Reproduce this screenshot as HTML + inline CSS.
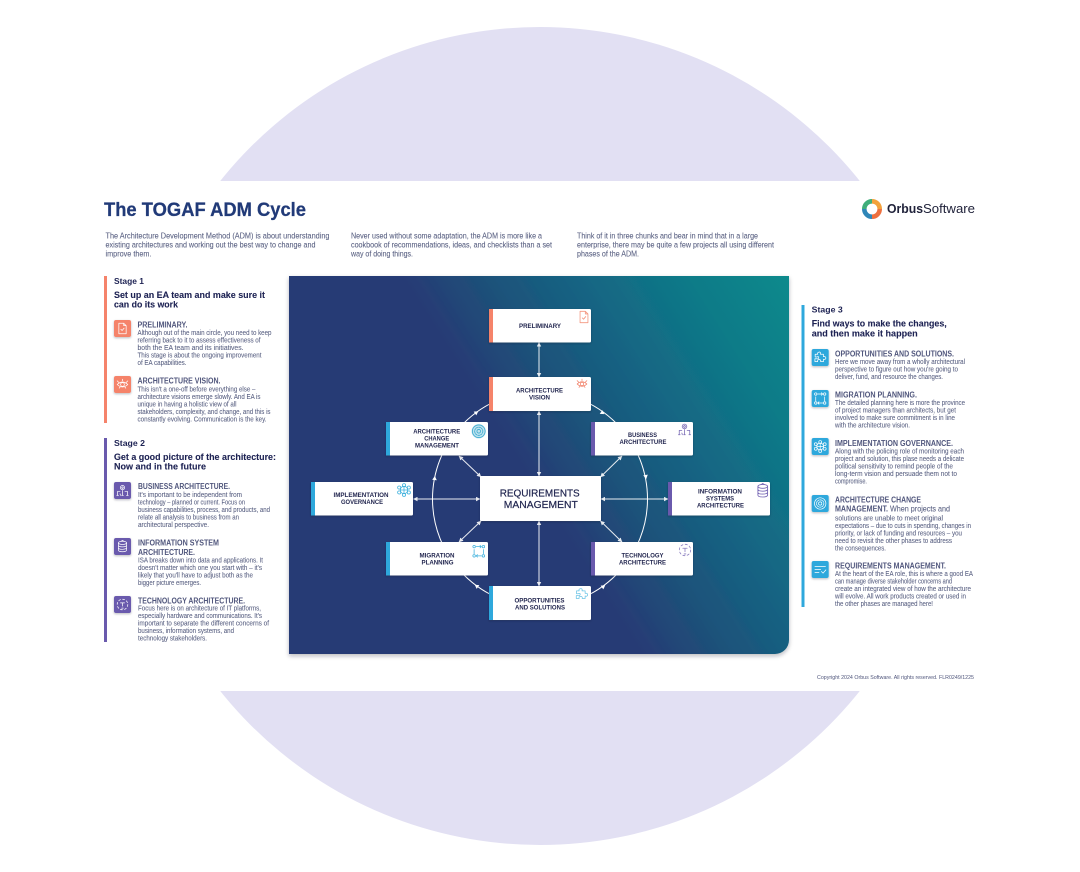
<!DOCTYPE html>
<html lang="en"><head><meta charset="utf-8"><title>The TOGAF ADM Cycle</title>
<style>
html,body{margin:0;padding:0;background:#fff;width:1080px;height:872px;overflow:hidden}
svg{display:block;filter:blur(.3px)}
text{font-family:"Liberation Sans",sans-serif}
.i{font-size:7.8px;fill:#5c6384;stroke:#5c6384;stroke-width:.08}
.b{font-size:7px;fill:#5c6384;stroke:#5c6384;stroke-width:.08}
.h{font-size:8px;font-weight:700;fill:#50567c}
.s{font-size:8.6px;font-weight:700;fill:#1d2253}
.g{font-size:9.2px;font-weight:700;fill:#1d2253;stroke:#1d2253;stroke-width:.1}
.n{font-size:6.2px;font-weight:700;fill:#22264f;text-anchor:middle}
.w{stroke:#fff;fill:none;stroke-width:1}
.ic{fill:none;stroke-width:.9;stroke-linecap:round;stroke-linejoin:round}
</style></head><body>
<svg width="1080" height="872" viewBox="0 0 1080 872" xmlns="http://www.w3.org/2000/svg">
<defs>
<linearGradient id="pg" gradientUnits="userSpaceOnUse" x1="512" y1="452" x2="789" y2="276">
<stop offset="0" stop-color="#273a75"/><stop offset=".2" stop-color="#1e5079"/><stop offset=".45" stop-color="#146483"/><stop offset=".73" stop-color="#0f7a88"/><stop offset="1" stop-color="#0e8a8c"/>
</linearGradient>
<filter id="sh" x="-20%" y="-20%" width="140%" height="150%"><feDropShadow dx="0" dy="1" stdDeviation="1" flood-color="#223" flood-opacity=".3"/></filter>
<filter id="ps" x="-5%" y="-5%" width="110%" height="110%"><feDropShadow dx="0" dy="2" stdDeviation="2" flood-color="#223" flood-opacity=".3"/></filter>
<marker id="a" viewBox="0 0 6 6" refX="5.5" refY="3" markerWidth="4.5" markerHeight="4.5" markerUnits="userSpaceOnUse" orient="auto-start-reverse"><path d="M0 0L6 3L0 6Z" fill="#fff"/></marker>
<symbol id="doc" viewBox="0 0 16 16"><path d="M3.5 1.5h6l3 3v10h-9z M9.5 1.5v3h3 M6 9l1.5 1.5L10 7.5"/></symbol>
<symbol id="eye" viewBox="0 0 16 16"><path d="M1.5 8q6.500-6 13 0q-6.500 6-13 0z"/><circle cx="8" cy="8" r="2.300"/><path d="M1.500 3.500l2 2M14.500 3.500l-2 2M8 1.500v2M4 12.500l1-1.300M12 12.500l-1-1.300"/></symbol>
<symbol id="bus" viewBox="0 0 16 16"><circle cx="8" cy="4.500" r="2.600"/><circle cx="8" cy="4.500" r="1"/><path d="M2 14V9h3M14 14V9h-3M8 8v6M5.500 14l-.5-2M1 14h2M13 14h2M7 14h2"/></symbol>
<symbol id="db" viewBox="0 0 16 16"><ellipse cx="8" cy="3.500" rx="5" ry="2"/><path d="M3 3.500v9c0 2.600 10 2.600 10 0v-9M3 6.500c0 2.600 10 2.600 10 0M3 9.500c0 2.600 10 2.600 10 0"/><path d="M6.500 1.500l1.500-1 1.500 1"/></symbol>
<symbol id="tech" viewBox="0 0 16 16"><circle cx="8" cy="8" r="6.500" stroke-dasharray="2.500 2.600"/><path d="M5.500 6h5M8 6v4M7 12.500h2"/></symbol>
<symbol id="puz" viewBox="0 0 16 16"><path d="M6 1.500c2-.8 3 .8 2.300 2.500H12v3c1.800-.6 3 .3 3 1.600s-1.200 2.200-3 1.500v3H8.500c.6-1.600-.4-2.600-1.800-2.600s-2.400 1-1.800 2.600H1.500v-3.500h2.200c1.600.5 2.500-.5 2.500-1.700S5.300 6.800 3.800 7.400H1.800V4H5C4.300 3 4.600 2 6 1.500z"/></symbol>
<symbol id="mig" viewBox="0 0 16 16"><circle cx="2.500" cy="2.500" r="1.500"/><circle cx="13.500" cy="2.500" r="1.500"/><circle cx="2.500" cy="13.500" r="1.500"/><circle cx="13.500" cy="13.500" r="1.500"/><path d="M5 2.500h6M9.500 1l1.500 1.500L9.500 4M11 13.500H5M6.500 12L5 13.500 6.500 15M2.500 6v5M13.500 6v5"/></symbol>
<symbol id="gov" viewBox="0 0 16 16"><circle cx="8" cy="8" r="4.200"/><path d="M8 3.800v8.400M3.800 8h8.400"/><circle cx="8" cy="2.500" r="1.800"/><circle cx="8" cy="13.500" r="1.800"/><circle cx="2.500" cy="5.200" r="1.800"/><circle cx="13.500" cy="5.200" r="1.800"/><circle cx="2.500" cy="10.800" r="1.800"/><circle cx="13.500" cy="10.800" r="1.800"/></symbol>
<symbol id="chg" viewBox="0 0 16 16"><circle cx="8" cy="8" r="7"/><circle cx="8" cy="8" r="4.500" stroke-dasharray="2 1"/><circle cx="8" cy="8" r="2"/></symbol>
<symbol id="req" viewBox="0 0 16 16"><path d="M1.500 4.500h13M1.500 8h7M1.500 11.500h5M9.500 10.500l2 2 3.500-4"/></symbol>
</defs>

<circle cx="540" cy="436" r="409" fill="#e2e0f3"/>
<rect x="0" y="181" width="1080" height="510" fill="#fff"/>

<text x="104" y="216" font-size="19" font-weight="700" fill="#213a78" stroke="#213a78" stroke-width=".25" textLength="202" lengthAdjust="spacingAndGlyphs">The TOGAF ADM Cycle</text>

<g fill="none" stroke-width="4.600">
<path d="M864.300 209a7.700 7.700 0 0 1 7.700-7.700" stroke="#3fae7a"/>
<path d="M872 201.300a7.700 7.700 0 0 1 7.700 7.700" stroke="#f2a23c"/>
<path d="M879.700 209a7.700 7.700 0 0 1-7.700 7.700" stroke="#ee7040"/>
<path d="M872 216.700a7.700 7.700 0 0 1-7.700-7.700" stroke="#2f86b8"/>
</g>
<text x="887" y="213" font-size="13" font-weight="700" fill="#20223a" textLength="36" lengthAdjust="spacingAndGlyphs">Orbus</text>
<text x="923" y="213" font-size="13" fill="#20223a" textLength="52" lengthAdjust="spacingAndGlyphs">Software</text>

<text class="i" x="105.500" y="238.700" textLength="224" lengthAdjust="spacingAndGlyphs">The Architecture Development Method (ADM) is about understanding</text>
<text class="i" x="105.500" y="247.700" textLength="210" lengthAdjust="spacingAndGlyphs">existing architectures and working out the best way to change and</text>
<text class="i" x="105.500" y="256.700" textLength="46" lengthAdjust="spacingAndGlyphs">improve them.</text>
<text class="i" x="351" y="238.700" textLength="191" lengthAdjust="spacingAndGlyphs">Never used without some adaptation, the ADM is more like a</text>
<text class="i" x="351" y="247.700" textLength="201" lengthAdjust="spacingAndGlyphs">cookbook of recommendations, ideas, and checklists than a set</text>
<text class="i" x="351" y="256.700" textLength="62" lengthAdjust="spacingAndGlyphs">way of doing things.</text>
<text class="i" x="577" y="238.700" textLength="181" lengthAdjust="spacingAndGlyphs">Think of it in three chunks and bear in mind that in a large</text>
<text class="i" x="577" y="247.700" textLength="197" lengthAdjust="spacingAndGlyphs">enterprise, there may be quite a few projects all using different</text>
<text class="i" x="577" y="256.700" textLength="62" lengthAdjust="spacingAndGlyphs">phases of the ADM.</text>

<!-- Stage 1 -->
<rect x="104" y="276" width="3" height="147" fill="#f5836b"/>
<text class="s" x="114" y="284" textLength="30" lengthAdjust="spacingAndGlyphs">Stage 1</text>
<text class="g" x="114" y="298" textLength="151" lengthAdjust="spacingAndGlyphs">Set up an EA team and make sure it</text>
<text class="g" x="114" y="307.500" textLength="64" lengthAdjust="spacingAndGlyphs">can do its work</text>
<rect x="114" y="320" width="17" height="17" rx="2" fill="#f5836b" filter="url(#sh)"/>
<use href="#doc" x="116" y="322" width="13" height="13" class="ic" stroke="#fff"/>
<text class="h" x="137.500" y="327.500" textLength="50" lengthAdjust="spacingAndGlyphs">PRELIMINARY.</text>
<text class="b" x="137.500" y="335" textLength="134" lengthAdjust="spacingAndGlyphs">Although out of the main circle, you need to keep</text>
<text class="b" x="137.500" y="342.500" textLength="123" lengthAdjust="spacingAndGlyphs">referring back to it to assess effectiveness of</text>
<text class="b" x="137.500" y="350" textLength="106" lengthAdjust="spacingAndGlyphs">both the EA team and its initiatives.</text>
<text class="b" x="137.500" y="357.500" textLength="124" lengthAdjust="spacingAndGlyphs">This stage is about the ongoing improvement</text>
<text class="b" x="137.500" y="365" textLength="49" lengthAdjust="spacingAndGlyphs">of EA capabilities.</text>
<rect x="114" y="376" width="17" height="17" rx="2" fill="#f5836b" filter="url(#sh)"/>
<use href="#eye" x="116" y="378" width="13" height="13" class="ic" stroke="#fff"/>
<text class="h" x="137.500" y="383.700" textLength="83" lengthAdjust="spacingAndGlyphs">ARCHITECTURE VISION.</text>
<text class="b" x="137.500" y="391.500" textLength="118" lengthAdjust="spacingAndGlyphs">This isn't a one-off before everything else –</text>
<text class="b" x="137.500" y="399" textLength="123" lengthAdjust="spacingAndGlyphs">architecture visions emerge slowly. And EA is</text>
<text class="b" x="137.500" y="406.500" textLength="99" lengthAdjust="spacingAndGlyphs">unique in having a holistic view of all</text>
<text class="b" x="137.500" y="414" textLength="133" lengthAdjust="spacingAndGlyphs">stakeholders, complexity, and change, and this is</text>
<text class="b" x="137.500" y="421.500" textLength="129" lengthAdjust="spacingAndGlyphs">constantly evolving. Communication is the key.</text>

<!-- Stage 2 -->
<rect x="104" y="438" width="3" height="204" fill="#6a5aad"/>
<text class="s" x="114" y="446" textLength="31" lengthAdjust="spacingAndGlyphs">Stage 2</text>
<text class="g" x="114" y="460" textLength="162" lengthAdjust="spacingAndGlyphs">Get a good picture of the architecture:</text>
<text class="g" x="114" y="469.700" textLength="92" lengthAdjust="spacingAndGlyphs">Now and in the future</text>
<rect x="114" y="482" width="17" height="17" rx="2" fill="#6a5aad" filter="url(#sh)"/>
<use href="#bus" x="116" y="484" width="13" height="13" class="ic" stroke="#fff"/>
<text class="h" x="138" y="489" textLength="92" lengthAdjust="spacingAndGlyphs">BUSINESS ARCHITECTURE.</text>
<text class="b" x="138" y="497" textLength="104" lengthAdjust="spacingAndGlyphs">It's important to be independent from</text>
<text class="b" x="138" y="504.500" textLength="107" lengthAdjust="spacingAndGlyphs">technology – planned or current. Focus on</text>
<text class="b" x="138" y="512" textLength="132" lengthAdjust="spacingAndGlyphs">business capabilities, process, and products, and</text>
<text class="b" x="138" y="519.500" textLength="101" lengthAdjust="spacingAndGlyphs">relate all analysis to business from an</text>
<text class="b" x="138" y="527" textLength="71" lengthAdjust="spacingAndGlyphs">architectural perspective.</text>
<rect x="114" y="538" width="17" height="17" rx="2" fill="#6a5aad" filter="url(#sh)"/>
<use href="#db" x="116" y="540" width="13" height="13" class="ic" stroke="#fff"/>
<text class="h" x="138" y="545.700" textLength="81" lengthAdjust="spacingAndGlyphs">INFORMATION SYSTEM</text>
<text class="h" x="138" y="555" textLength="57" lengthAdjust="spacingAndGlyphs">ARCHITECTURE.</text>
<text class="b" x="138" y="562.300" textLength="125" lengthAdjust="spacingAndGlyphs">ISA breaks down into data and applications. It</text>
<text class="b" x="138" y="570" textLength="124" lengthAdjust="spacingAndGlyphs">doesn't matter which one you start with – it's</text>
<text class="b" x="138" y="577.500" textLength="115" lengthAdjust="spacingAndGlyphs">likely that you'll have to adjust both as the</text>
<text class="b" x="138" y="585" textLength="63" lengthAdjust="spacingAndGlyphs">bigger picture emerges.</text>
<rect x="114" y="596" width="17" height="17" rx="2" fill="#6a5aad" filter="url(#sh)"/>
<use href="#tech" x="116" y="598" width="13" height="13" class="ic" stroke="#fff"/>
<text class="h" x="138" y="603.300" textLength="107" lengthAdjust="spacingAndGlyphs">TECHNOLOGY ARCHITECTURE.</text>
<text class="b" x="138" y="610.300" textLength="123" lengthAdjust="spacingAndGlyphs">Focus here is on architecture of IT platforms,</text>
<text class="b" x="138" y="618" textLength="124" lengthAdjust="spacingAndGlyphs">especially hardware and communications. It's</text>
<text class="b" x="138" y="625.500" textLength="131" lengthAdjust="spacingAndGlyphs">important to separate the different concerns of</text>
<text class="b" x="138" y="633" textLength="96" lengthAdjust="spacingAndGlyphs">business, information systems, and</text>
<text class="b" x="138" y="640.500" textLength="69" lengthAdjust="spacingAndGlyphs">technology stakeholders.</text>

<!-- Stage 3 -->
<rect x="801.500" y="305" width="3" height="302" fill="#2fa8dc"/>
<text class="s" x="811.700" y="312.700" textLength="31" lengthAdjust="spacingAndGlyphs">Stage 3</text>
<text class="g" x="811.700" y="326.700" textLength="135" lengthAdjust="spacingAndGlyphs">Find ways to make the changes,</text>
<text class="g" x="811.700" y="336.300" textLength="106" lengthAdjust="spacingAndGlyphs">and then make it happen</text>
<rect x="811.700" y="349" width="17" height="17" rx="2" fill="#2fa8dc" filter="url(#sh)"/>
<use href="#puz" x="813.700" y="351" width="13" height="13" class="ic" stroke="#fff"/>
<text class="h" x="835" y="356.300" textLength="119" lengthAdjust="spacingAndGlyphs">OPPORTUNITIES AND SOLUTIONS.</text>
<text class="b" x="835" y="364" textLength="130" lengthAdjust="spacingAndGlyphs">Here we move away from a wholly architectural</text>
<text class="b" x="835" y="371.500" textLength="123" lengthAdjust="spacingAndGlyphs">perspective to figure out how you're going to</text>
<text class="b" x="835" y="379" textLength="108" lengthAdjust="spacingAndGlyphs">deliver, fund, and resource the changes.</text>
<rect x="811.700" y="390" width="17" height="17" rx="2" fill="#2fa8dc" filter="url(#sh)"/>
<use href="#mig" x="813.700" y="392" width="13" height="13" class="ic" stroke="#fff"/>
<text class="h" x="835" y="397.300" textLength="82" lengthAdjust="spacingAndGlyphs">MIGRATION PLANNING.</text>
<text class="b" x="835" y="405" textLength="130" lengthAdjust="spacingAndGlyphs">The detailed planning here is more the province</text>
<text class="b" x="835" y="412.600" textLength="121" lengthAdjust="spacingAndGlyphs">of project managers than architects, but get</text>
<text class="b" x="835" y="420" textLength="120" lengthAdjust="spacingAndGlyphs">involved to make sure commitment is in line</text>
<text class="b" x="835" y="427.500" textLength="75" lengthAdjust="spacingAndGlyphs">with the architecture vision.</text>
<rect x="811.700" y="438" width="17" height="17" rx="2" fill="#2fa8dc" filter="url(#sh)"/>
<use href="#gov" x="813.700" y="440" width="13" height="13" class="ic" stroke="#fff"/>
<text class="h" x="835" y="446" textLength="118" lengthAdjust="spacingAndGlyphs">IMPLEMENTATION GOVERNANCE.</text>
<text class="b" x="835" y="453.700" textLength="129" lengthAdjust="spacingAndGlyphs">Along with the policing role of monitoring each</text>
<text class="b" x="835" y="461" textLength="129" lengthAdjust="spacingAndGlyphs">project and solution, this plase needs a delicate</text>
<text class="b" x="835" y="468.500" textLength="118" lengthAdjust="spacingAndGlyphs">political sensitivity to remind people of the</text>
<text class="b" x="835" y="476" textLength="122" lengthAdjust="spacingAndGlyphs">long-term vision and persuade them not to</text>
<text class="b" x="835" y="483.500" textLength="32" lengthAdjust="spacingAndGlyphs">compromise.</text>
<rect x="811.700" y="495" width="17" height="17" rx="2" fill="#2fa8dc" filter="url(#sh)"/>
<use href="#chg" x="813.700" y="497" width="13" height="13" class="ic" stroke="#fff"/>
<text class="h" x="835" y="502.300" textLength="86" lengthAdjust="spacingAndGlyphs">ARCHITECTURE CHANGE</text>
<text class="h" x="835" y="511.300" textLength="53" lengthAdjust="spacingAndGlyphs">MANAGEMENT.</text>
<text class="i" x="890" y="511.300" textLength="60" lengthAdjust="spacingAndGlyphs">When projects and</text>
<text class="b" x="835" y="520.700" textLength="108" lengthAdjust="spacingAndGlyphs">solutions are unable to meet original</text>
<text class="b" x="835" y="528" textLength="136" lengthAdjust="spacingAndGlyphs">expectations – due to cuts in spending, changes in</text>
<text class="b" x="835" y="535.500" textLength="127" lengthAdjust="spacingAndGlyphs">priority, or lack of funding and resources – you</text>
<text class="b" x="835" y="543" textLength="117" lengthAdjust="spacingAndGlyphs">need to revisit the other phases to address</text>
<text class="b" x="835" y="550.500" textLength="51" lengthAdjust="spacingAndGlyphs">the consequences.</text>
<rect x="811.700" y="561" width="17" height="17" rx="2" fill="#2fa8dc" filter="url(#sh)"/>
<use href="#req" x="813.700" y="563" width="13" height="13" class="ic" stroke="#fff"/>
<text class="h" x="835" y="568.300" textLength="111" lengthAdjust="spacingAndGlyphs">REQUIREMENTS MANAGEMENT.</text>
<text class="b" x="835" y="576" textLength="138" lengthAdjust="spacingAndGlyphs">At the heart of the EA role, this is where a good EA</text>
<text class="b" x="835" y="583.500" textLength="117" lengthAdjust="spacingAndGlyphs">can manage diverse stakeholder concerns and</text>
<text class="b" x="835" y="591" textLength="136" lengthAdjust="spacingAndGlyphs">create an integrated view of how the architecture</text>
<text class="b" x="835" y="598.500" textLength="131" lengthAdjust="spacingAndGlyphs">will evolve. All work products created or used in</text>
<text class="b" x="835" y="606" textLength="98" lengthAdjust="spacingAndGlyphs">the other phases are managed here!</text>

<text x="817" y="679" font-size="5.200" fill="#50567c" textLength="157" lengthAdjust="spacingAndGlyphs">Copyright 2024 Orbus Software. All rights reserved. FLR0249/1225</text>

<!-- Panel -->
<path d="M289 276H789V640a14 14 0 0 1-14 14H289Z" fill="url(#pg)" filter="url(#ps)"/>

<!-- Connectors -->
<circle class="w" cx="540" cy="499" r="107.500"/>
<g stroke="#fff" stroke-width="1" fill="none" opacity=".9">
<line x1="539" y1="342.500" x2="539" y2="377" marker-start="url(#a)" marker-end="url(#a)"/>
<line x1="539" y1="411" x2="539" y2="476" marker-start="url(#a)" marker-end="url(#a)"/>
<line x1="539" y1="521" x2="539" y2="586" marker-start="url(#a)" marker-end="url(#a)"/>
<line x1="413.500" y1="499" x2="480" y2="499" marker-start="url(#a)" marker-end="url(#a)"/>
<line x1="601" y1="499" x2="668" y2="499" marker-start="url(#a)" marker-end="url(#a)"/>
<line x1="459" y1="456" x2="481" y2="477" marker-start="url(#a)" marker-end="url(#a)"/>
<line x1="622" y1="456" x2="600.500" y2="477" marker-start="url(#a)" marker-end="url(#a)"/>
<line x1="459" y1="542" x2="481" y2="521" marker-start="url(#a)" marker-end="url(#a)"/>
<line x1="622" y1="542" x2="600.500" y2="521" marker-start="url(#a)" marker-end="url(#a)"/>
</g>
<g fill="#fff">
<path d="M0 -2.300L4 0L0 2.300Z" transform="translate(475 413.500) rotate(-35)"/>
<path d="M0 -2.300L4 0L0 2.300Z" transform="translate(601 412) rotate(33)"/>
<path d="M0 -2.300L4 0L0 2.300Z" transform="translate(434.500 480) rotate(-85)"/>
<path d="M0 -2.300L4 0L0 2.300Z" transform="translate(645.500 475) rotate(80)"/>
<path d="M0 -2.300L4 0L0 2.300Z" transform="translate(478 587) rotate(-145)"/>
<path d="M0 -2.300L4 0L0 2.300Z" transform="translate(602 587.500) rotate(-35)"/>
</g>

<!-- Nodes -->
<g filter="url(#sh)">
<rect x="489" y="309" width="102" height="33.500" rx="1.500" fill="#fff"/><rect x="489" y="309" width="4" height="33.500" fill="#f5836b"/>
<rect x="489" y="377" width="102" height="34" rx="1.500" fill="#fff"/><rect x="489" y="377" width="4" height="34" fill="#f5836b"/>
<rect x="386" y="422" width="102" height="33.500" rx="1.500" fill="#fff"/><rect x="386" y="422" width="4" height="33.500" fill="#2fa8dc"/>
<rect x="591" y="422" width="102" height="33.500" rx="1.500" fill="#fff"/><rect x="591" y="422" width="4" height="33.500" fill="#6a5aad"/>
<rect x="311" y="482" width="102" height="33.500" rx="1.500" fill="#fff"/><rect x="311" y="482" width="4" height="33.500" fill="#2fa8dc"/>
<rect x="668" y="482" width="102" height="33.500" rx="1.500" fill="#fff"/><rect x="668" y="482" width="4" height="33.500" fill="#6a5aad"/>
<rect x="386" y="542" width="102" height="33.500" rx="1.500" fill="#fff"/><rect x="386" y="542" width="4" height="33.500" fill="#2fa8dc"/>
<rect x="591" y="542" width="102" height="33.500" rx="1.500" fill="#fff"/><rect x="591" y="542" width="4" height="33.500" fill="#6a5aad"/>
<rect x="489" y="586" width="102" height="34" rx="1.500" fill="#fff"/><rect x="489" y="586" width="4" height="34" fill="#2fa8dc"/>
<rect x="480" y="476" width="121" height="45" rx="1" fill="#fff"/>
</g>

<text class="n" x="540" y="328" textLength="42" lengthAdjust="spacingAndGlyphs">PRELIMINARY</text>
<text class="n" x="539.500" y="392.700" textLength="47" lengthAdjust="spacingAndGlyphs">ARCHITECTURE</text>
<text class="n" x="539.500" y="399.700" textLength="21" lengthAdjust="spacingAndGlyphs">VISION</text>
<text class="n" x="436.700" y="433.700" textLength="47" lengthAdjust="spacingAndGlyphs">ARCHITECTURE</text>
<text class="n" x="436.700" y="440.700" textLength="25" lengthAdjust="spacingAndGlyphs">CHANGE</text>
<text class="n" x="437" y="447.700" textLength="44" lengthAdjust="spacingAndGlyphs">MANAGEMENT</text>
<text class="n" x="642.500" y="437" textLength="29" lengthAdjust="spacingAndGlyphs">BUSINESS</text>
<text class="n" x="643" y="444" textLength="47" lengthAdjust="spacingAndGlyphs">ARCHITECTURE</text>
<text class="n" x="361" y="497" textLength="55" lengthAdjust="spacingAndGlyphs">IMPLEMENTATION</text>
<text class="n" x="362" y="504" textLength="42" lengthAdjust="spacingAndGlyphs">GOVERNANCE</text>
<text class="n" x="720" y="493.700" textLength="44" lengthAdjust="spacingAndGlyphs">INFORMATION</text>
<text class="n" x="720" y="500.700" textLength="28" lengthAdjust="spacingAndGlyphs">SYSTEMS</text>
<text class="n" x="720.500" y="507.700" textLength="47" lengthAdjust="spacingAndGlyphs">ARCHITECTURE</text>
<text class="n" x="437" y="557.700" textLength="35" lengthAdjust="spacingAndGlyphs">MIGRATION</text>
<text class="n" x="437.500" y="564.700" textLength="32" lengthAdjust="spacingAndGlyphs">PLANNING</text>
<text class="n" x="642.500" y="557.700" textLength="42" lengthAdjust="spacingAndGlyphs">TECHNOLOGY</text>
<text class="n" x="642.500" y="564.700" textLength="47" lengthAdjust="spacingAndGlyphs">ARCHITECTURE</text>
<text class="n" x="539.500" y="602.300" textLength="50" lengthAdjust="spacingAndGlyphs">OPPORTUNITIES</text>
<text class="n" x="540" y="609.300" textLength="50" lengthAdjust="spacingAndGlyphs">AND SOLUTIONS</text>
<text x="539.700" y="496.700" font-size="10.500" fill="#20254f" stroke="#20254f" stroke-width=".2" text-anchor="middle" textLength="80" lengthAdjust="spacingAndGlyphs">REQUIREMENTS</text>
<text x="540.800" y="508" font-size="10.500" fill="#20254f" stroke="#20254f" stroke-width=".2" text-anchor="middle" textLength="74" lengthAdjust="spacingAndGlyphs">MANAGEMENT</text>

<!-- Node icons -->
<use href="#doc" x="577" y="310" width="14" height="14" class="ic" stroke="#f3967f"/>
<use href="#eye" x="576" y="378" width="12" height="12" class="ic" stroke="#f0765c"/>
<circle cx="478.700" cy="431.300" r="7.200" fill="#bfe3ee"/>
<use href="#chg" x="471.500" y="424" width="14.500" height="14.500" class="ic" stroke="#3aa9cf"/>
<use href="#bus" x="677.500" y="422.500" width="14" height="14" class="ic" stroke="#7a6cb5"/>
<use href="#gov" x="397" y="483" width="14" height="14" class="ic" stroke="#3fb1dd"/>
<use href="#db" x="755" y="483" width="15.500" height="15.500" class="ic" stroke="#7767b5"/>
<use href="#mig" x="472" y="544.500" width="13.500" height="13.500" class="ic" stroke="#3fb1dd"/>
<use href="#tech" x="678" y="543" width="14" height="14" class="ic" stroke="#8a7dbf"/>
<use href="#puz" x="575" y="587.500" width="13.500" height="13.500" class="ic" stroke="#6cc4e6"/>
</svg>
</body></html>
